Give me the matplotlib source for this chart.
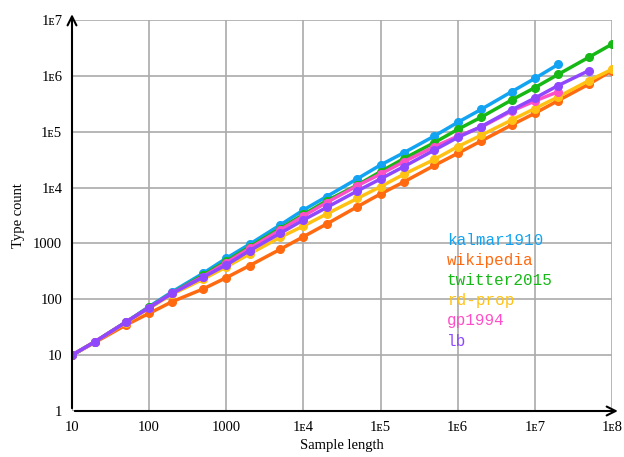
# Type count vs. sample length (log-log), one line per corpus, legend drawn as coloured text.
import matplotlib; matplotlib.use("Agg")
import matplotlib.pyplot as plt
import numpy as np

x_full = [10, 20, 50, 100, 200, 500, 1e3, 2e3, 5e3, 1e4, 2e4, 5e4, 1e5, 2e5, 5e5,
          1e6, 2e6, 5e6, 1e7, 2e7, 5e7, 1e8]

kalmar1910 = [10, 17.5, 39, 74, 137, 292, 542, 966, 2140, 3970, 6900, 14400, 25400, 42000,
              84000, 147000, 250000, 520000, 900000, 1600000]
wikipedia = [10, 17, 34.7, 56, 91, 153, 244, 400, 785, 1320, 2230, 4550, 7700, 12600, 25000,
             41000, 68000, 132000, 214000, 360000, 710000, 1240000]
twitter2015 = [10, 17.5, 39, 72, 130, 270, 480, 870, 1850, 3300, 5800, 11100, 19300, 33000,
               64000, 110000, 181000, 370000, 615000, 1060000, 2150000, 3700000]
rd_prop = [10, 17.5, 38, 69, 124, 229, 380, 647, 1290, 2050, 3370, 6400, 10400, 17300, 32000,
           54000, 86000, 162000, 260000, 420000, 820000, 1310000]
gp1994 = [10, 17.5, 39, 71, 129, 255, 452, 818, 1740, 3100, 5400, 10800, 17500, 29000, 54000,
          83000, 120000, 235000, 355000, 520000]
lb = [10, 17.5, 39, 71, 128, 248, 411, 741, 1520, 2630, 4400, 8700, 14300, 23700, 47000,
      79000, 123000, 245000, 400000, 670000, 1240000]

names = ["kalmar1910", "wikipedia", "twitter2015", "rd-prop", "gp1994", "lb"]
series = [kalmar1910, wikipedia, twitter2015, rd_prop, gp1994, lb]
colors = ["#12a4f2", "#ff6a10", "#16b816", "#ffc214", "#ff4fc6", "#9048ff"]

xticks = [10, 100, 1000, 1e4, 1e5, 1e6, 1e7, 1e8]
xtick_labels = ["10", "100", "1000", "1\u1d074", "1\u1d075", "1\u1d076", "1\u1d077", "1\u1d078"]
yticks = [1, 10, 100, 1000, 1e4, 1e5, 1e6, 1e7]
ytick_labels = ["1", "10", "100", "1000", "1\u1d074", "1\u1d075", "1\u1d076", "1\u1d077"]

serif = ["Liberation Serif", "DejaVu Serif", "DejaVu Sans"]

fig = plt.figure(figsize=(6.24, 4.57), dpi=100)
ax = fig.add_axes([72/624, 1-411/457, 540/624, 391/457])
ax.set_xscale("log"); ax.set_yscale("log")
ax.set_xlim(10, 1e8); ax.set_ylim(1, 1e7)

for ys, c in zip(series, colors):
    ax.plot(x_full[:len(ys)], ys, color=c, lw=2.5, marker="o", ms=5.5, zorder=3)

ax.set_xticks(xticks); ax.set_xticklabels(xtick_labels, family=serif, fontsize=10.5)
ax.set_yticks(yticks); ax.set_yticklabels(ytick_labels, family=serif, fontsize=10.5)
ax.minorticks_off()
ax.tick_params(length=0, pad=7)
ax.grid(True, color="#aaaaaa", lw=1.2)
ax.set_axisbelow(True)
for s in ["top", "right", "left", "bottom"]:
    ax.spines[s].set_visible(False)

# axes with arrow heads
ax.annotate("", xy=(1.016, 0), xytext=(0, 0), xycoords="axes fraction",
            arrowprops=dict(arrowstyle="->", color="black", lw=1.5, mutation_scale=16), zorder=5)
ax.annotate("", xy=(0, 1.022), xytext=(0, 0), xycoords="axes fraction",
            arrowprops=dict(arrowstyle="->", color="black", lw=1.5, mutation_scale=16), zorder=5)

ax.set_xlabel("Sample length", family=serif, fontsize=10.5, labelpad=4)
ax.set_ylabel("Type count", family=serif, fontsize=10.5, labelpad=6)

for i, (n, c) in enumerate(zip(names, colors)):
    ax.text(0.694, 0.435 - i*0.0512, n, color=c, family="Liberation Mono", fontsize=11.5,
            transform=ax.transAxes, va="center", ha="left")

fig.savefig("out.png", dpi=100)
